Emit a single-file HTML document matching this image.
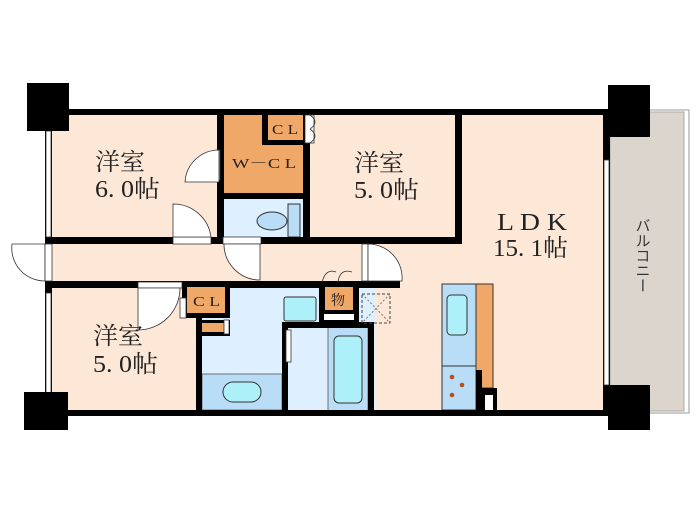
<!DOCTYPE html>
<html><head><meta charset="utf-8"><style>
html,body{margin:0;padding:0;background:#fff;width:700px;height:525px;overflow:hidden}
svg{display:block}
text{font-family:"Liberation Serif","Noto Serif CJK SC",serif;fill:#222}
</style></head><body>
<svg width="700" height="525" viewBox="0 0 700 525" xmlns="http://www.w3.org/2000/svg">
<!-- balcony -->
<rect x="608" y="110" width="81" height="303" fill="#fff" stroke="#999" stroke-width="1"/>
<rect x="610" y="112" width="74" height="299" fill="#dcd5ce" stroke="#aaa" stroke-width="1"/>
<!-- floors -->
<rect x="48" y="112" width="560" height="300" fill="#fde7d6"/>
<rect x="222" y="113" width="84" height="85" fill="#f0a868"/>
<rect x="222" y="198" width="84" height="41" fill="#deefff"/>
<rect x="200" y="286" width="175" height="126" fill="#deefff"/>
<rect x="202" y="374" width="80" height="36" fill="#b9dcf7" stroke="#555" stroke-width="0.8"/>
<rect x="223" y="382" width="38" height="20" rx="10" fill="#aef0fa" stroke="#333" stroke-width="1"/>
<rect x="328" y="327" width="40" height="84" fill="#b9dcf7" stroke="#555" stroke-width="0.8"/>
<rect x="334" y="336" width="28" height="67" rx="5" fill="#aef0fa" stroke="#333" stroke-width="1"/>
<rect x="284" y="297" width="32" height="24" rx="2" fill="#aef0fa" stroke="#333" stroke-width="1"/>
<ellipse cx="272" cy="221" rx="15" ry="9" fill="#b9dcf7" stroke="#333"/>
<rect x="288" y="204" width="12" height="33" fill="#b9dcf7" stroke="#333"/>
<!-- kitchen -->
<rect x="442" y="284" width="34" height="126" fill="#b9dcf7" stroke="#333"/>
<line x1="442" y1="366" x2="476" y2="366" stroke="#333"/>
<rect x="447" y="295" width="20" height="40" rx="4" fill="#aef0fa" stroke="#333"/>
<rect x="476" y="284" width="17" height="104" fill="#f0a868" stroke="#333"/>
<circle cx="452" cy="377" r="2.3" fill="#b5501a"/><circle cx="462" cy="385" r="2.3" fill="#b5501a"/><circle cx="452" cy="395" r="2.3" fill="#b5501a"/>
<rect x="476" y="370" width="6" height="42" fill="#000"/>
<rect x="482" y="388" width="15" height="24" fill="#000"/>
<rect x="485" y="395" width="8" height="15" fill="#fff"/>
<!-- walls -->
<g fill="#000">
<rect x="45" y="109" width="565" height="6"/>
<rect x="45" y="410" width="565" height="6"/>
<rect x="45" y="115" width="7" height="300"/>
<rect x="603" y="115" width="7" height="300"/>
<rect x="217" y="109" width="7" height="135"/>
<rect x="303" y="109" width="7" height="135"/>
<rect x="455" y="109" width="7" height="135"/>
<rect x="45" y="237" width="416" height="7"/>
<rect x="45" y="281" width="355" height="7"/>
<rect x="224" y="193" width="82" height="6"/>
<rect x="262" y="115" width="6" height="30"/>
<rect x="262" y="140" width="44" height="5"/>
<rect x="182" y="282" width="48" height="36"/>
<rect x="196" y="318" width="6" height="97"/>
<rect x="196" y="320" width="34" height="16"/>
<rect x="282" y="322" width="6" height="93"/>
<rect x="282" y="322" width="92" height="6"/>
<rect x="368" y="322" width="6" height="93"/>
<rect x="319" y="282" width="40" height="40"/>
</g>
<rect x="268" y="115" width="35" height="25" fill="#f0a868"/>
<rect x="187" y="287" width="38" height="26" fill="#f0a868"/>
<rect x="202" y="323" width="22" height="9" fill="#f0a868"/>
<rect x="325" y="287" width="28" height="23" fill="#f0a868"/>
<rect x="324" y="314" width="30" height="6" fill="#fff"/>
<rect x="362" y="294" width="28" height="29" fill="none" stroke="#444" stroke-dasharray="3,2"/>
<line x1="362" y1="294" x2="390" y2="323" stroke="#777" stroke-dasharray="2,2"/><line x1="390" y1="294" x2="362" y2="323" stroke="#777" stroke-dasharray="2,2"/>
<!-- doors -->
<g fill="#fff" stroke="#333" stroke-width="0.8">
<rect x="173" y="237" width="38" height="7"/>
<path d="M173 237 V204 A38 38 0 0 1 211 237 Z"/>
<path d="M217 150 V180 H220 V150 Z"/>
<path d="M219 182 H185 A34 34 0 0 1 219 150 Z"/>
<rect x="223" y="237" width="38" height="7"/>
<path d="M224 244 A36 36 0 0 0 260 280 V244 Z"/>
<rect x="362" y="244" width="6" height="37"/>
<path d="M368 244 A34 34 0 0 1 402 281 H368 Z"/>
<path d="M45 244 H12 A33 33 0 0 0 45 281 Z"/>
<rect x="45" y="244" width="7" height="37"/>
<rect x="138" y="282" width="44" height="6"/>
<path d="M138 288 V330 A42 42 0 0 0 180 288 Z"/>
<rect x="180" y="298" width="6" height="20"/>
<rect x="305" y="115" width="9" height="28"/>
<path d="M310 115 Q320 122 310 129 M310 129 Q320 136 310 143" fill="none"/>
<path d="M322 282 Q326 268 336 272 M338 282 Q340 268 352 272" fill="none"/>
<rect x="286" y="330" width="5" height="32"/>
<rect x="224" y="320" width="5" height="14"/>
</g>
<g stroke="#333" stroke-width="0.8" fill="#fff">
<rect x="46" y="131" width="5" height="106"/>
<rect x="46" y="293" width="5" height="100"/>
<rect x="604" y="160" width="5" height="225"/>
</g>
<g fill="#000">
<rect x="27" y="83" width="42" height="48"/>
<rect x="24" y="392" width="44" height="38"/>
<rect x="608" y="85" width="42" height="52"/>
<rect x="608" y="385" width="42" height="45"/>
</g>
<!-- labels -->
<text x="95" y="170" font-size="24" textLength="50" lengthAdjust="spacingAndGlyphs">洋室</text>
<text x="95" y="197" font-size="24" textLength="65" lengthAdjust="spacingAndGlyphs">6. 0帖</text>
<text x="354" y="171" font-size="24" textLength="50" lengthAdjust="spacingAndGlyphs">洋室</text>
<text x="354" y="198" font-size="24" textLength="65" lengthAdjust="spacingAndGlyphs">5. 0帖</text>
<text x="497" y="230" font-size="24" textLength="70" lengthAdjust="spacingAndGlyphs">L D K</text>
<text x="493" y="256" font-size="24" textLength="75" lengthAdjust="spacingAndGlyphs">15. 1帖</text>
<text x="93" y="344" font-size="24" textLength="50" lengthAdjust="spacingAndGlyphs">洋室</text>
<text x="93" y="372" font-size="24" textLength="65" lengthAdjust="spacingAndGlyphs">5. 0帖</text>
<text x="232" y="168" font-size="14" textLength="64" lengthAdjust="spacingAndGlyphs">W－C L</text>
<text x="272" y="134" font-size="14" textLength="26" lengthAdjust="spacingAndGlyphs">C L</text>
<text x="193" y="306" font-size="14" textLength="27" lengthAdjust="spacingAndGlyphs">C L</text>
<text x="331" y="305" font-size="14">物</text>
<text x="643" y="218" font-size="15" writing-mode="tb" glyph-orientation-vertical="0" style="writing-mode:vertical-rl;font-family:'Noto Sans CJK JP',sans-serif;fill:#333">バルコニー</text>
</svg>
</body></html>
